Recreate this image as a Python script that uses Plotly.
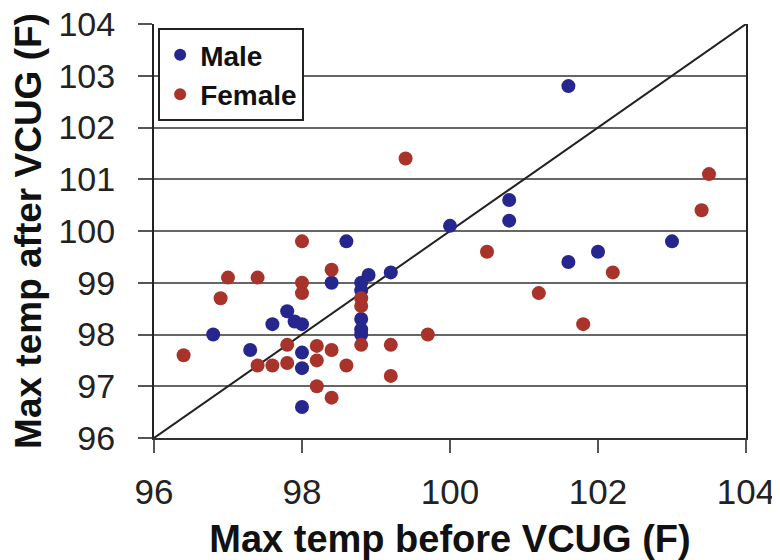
import plotly.graph_objects as go

# Data
male_before = [100.0, 101.6, 100.8, 100.8, 101.6, 102.0, 103.0, 98.6, 98.4, 98.8,
               98.9, 99.2, 98.8, 98.8, 98.8, 98.8, 97.8, 97.6, 97.9, 98.0,
               96.8, 97.3, 98.0, 98.0, 98.0]
male_after = [100.1, 102.8, 100.6, 100.2, 99.4, 99.6, 99.8, 99.8, 99.0, 99.0,
              99.15, 99.2, 98.85, 98.3, 98.1, 98.0, 98.45, 98.2, 98.25, 98.2,
              98.0, 97.7, 97.65, 97.35, 96.6]

female_before = [99.4, 103.5, 103.4, 100.5, 102.2, 101.2, 101.8, 98.0, 97.0, 97.4,
                 96.9, 98.0, 98.0, 98.4, 98.8, 98.8, 98.8, 96.4, 97.4, 97.6,
                 97.8, 97.8, 98.2, 98.2, 98.4, 98.6, 98.2, 98.4, 99.2, 99.2, 99.7]
female_after = [101.4, 101.1, 100.4, 99.6, 99.2, 98.8, 98.2, 99.8, 99.1, 99.1,
                98.7, 99.0, 98.8, 99.25, 98.7, 98.55, 97.8, 97.6, 97.4, 97.4,
                97.45, 97.8, 97.78, 97.5, 97.7, 97.4, 97.0, 96.78, 97.8, 97.2, 98.0]

identity_line = [96, 104]
x_ticks = [96, 98, 100, 102, 104]
y_ticks = [96, 97, 98, 99, 100, 101, 102, 103, 104]

MALE_COLOR = "#26268f"
FEMALE_COLOR = "#a8332b"
FONT = "Liberation Sans, Arial, sans-serif"

fig = go.Figure()

fig.add_trace(go.Scatter(
    x=identity_line, y=identity_line, mode="lines",
    line=dict(color="#222222", width=2), showlegend=False, hoverinfo="skip"))

fig.add_trace(go.Scatter(
    x=male_before, y=male_after, mode="markers", name="Male",
    marker=dict(color=MALE_COLOR, size=14)))

fig.add_trace(go.Scatter(
    x=female_before, y=female_after, mode="markers", name="Female",
    marker=dict(color=FEMALE_COLOR, size=14)))

fig.update_layout(
    width=780, height=560,
    margin=dict(l=146, r=42, t=16, b=130, pad=0, autoexpand=False),
    paper_bgcolor="white", plot_bgcolor="white",
    font=dict(family=FONT, color="#222222"),
    legend=dict(
        x=0.007, y=0.99, xanchor="left", yanchor="top",
        bgcolor="white", bordercolor="#222222", borderwidth=2,
        font=dict(family=FONT, size=28, color="#111111", weight="bold"),
        itemsizing="constant", tracegroupgap=0,
    ),
    xaxis=dict(
        range=[96, 104], tickvals=x_ticks, ticktext=[str(v) for v in x_ticks],
        automargin=False, ticklabeloverflow="allow",
        showgrid=False, zeroline=False,
        showline=True, linecolor="#333333", linewidth=2,
        ticks="outside", ticklen=13, tickwidth=2, tickcolor="#555555",
        tickfont=dict(family=FONT, size=35, color="#222222"),
        ticklabelstandoff=9,
        title=dict(text="Max temp before VCUG (F)", standoff=15,
                   font=dict(family=FONT, size=38, color="#111111", weight="bold")),
    ),
    yaxis=dict(
        range=[96, 104], tickvals=y_ticks, ticktext=[str(v) for v in y_ticks],
        automargin=False, ticklabeloverflow="allow",
        showgrid=True, gridcolor="#666666", gridwidth=2, zeroline=False,
        showline=True, mirror=True, linecolor="#222222", linewidth=2,
        ticks="outside", ticklen=14, tickwidth=2, tickcolor="#555555",
        tickfont=dict(family=FONT, size=34, color="#222222"),
        ticklabelstandoff=16,
        title=dict(text="Max temp after VCUG (F)", standoff=14,
                   font=dict(family=FONT, size=37, color="#111111", weight="bold")),
    ),
)

fig.write_html("out.html")
